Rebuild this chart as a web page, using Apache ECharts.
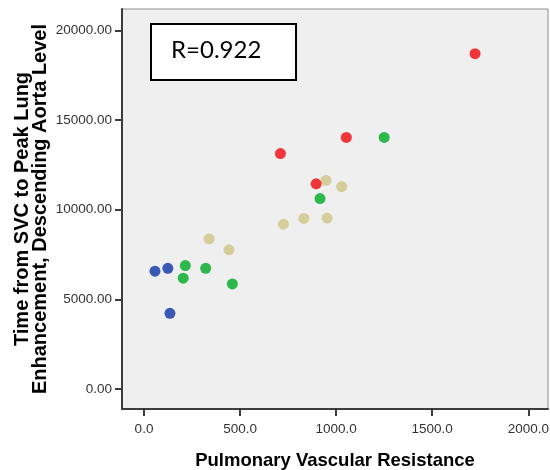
<!DOCTYPE html>
<html>
<head>
<meta charset="utf-8">
<script src="https://cdn.jsdelivr.net/npm/echarts@6/dist/echarts.min.js"></script>
<style>
html,body{margin:0;padding:0;background:#fff;}
#chart{width:550px;height:470px;}
</style>
</head>
<body>
<div id="chart"></div>
<script>
// Pulmonary Vascular Resistance (x) vs time (y), by colour group
const blueX = [57, 124, 135];
const blueY = [6570, 6730, 4220];
const greenX = [215, 204, 321, 460, 916, 1250];
const greenY = [6880, 6180, 6730, 5860, 10620, 14030];
const tanX = [339, 442, 726, 832, 953, 947, 1029];
const tanY = [8370, 7760, 9190, 9510, 9530, 11630, 11290];
const redX = [710, 896, 1053, 1723];
const redY = [13130, 11440, 14030, 18700];

const xTicks = [0, 500, 1000, 1500, 2000];
const yTicks = [0, 5000, 10000, 15000, 20000];
const rLabel = 'R=0.922';

const xTitle = 'Pulmonary Vascular Resistance';
const yTitle = 'Time from SVC to Peak Lung\nEnhancement, Descending Aorta Level';

function pts(xs, ys) { return xs.map((x, i) => [x, ys[i]]); }

const chart = echarts.init(document.getElementById('chart'), null, {renderer: 'canvas'});
const tickFont = {fontFamily: 'Liberation Sans, Arial, sans-serif', fontSize: 13.5, color: '#333'};

function sc(name, xs, ys, color) {
  return {
    name: name, type: 'scatter', data: pts(xs, ys), symbolSize: 11,
    itemStyle: {color: color, opacity: 1}, emphasis: {disabled: true}
  };
}

chart.setOption({
  animation: false,
  backgroundColor: '#ffffff',
  grid: {
    left: 122, right: 2, top: 9, bottom: 61, containLabel: false, outerBoundsMode: 'none',
    show: true, backgroundColor: '#efefef', borderColor: '#8c8c8c', borderWidth: 1
  },
  xAxis: {
    type: 'value', min: -114.5, max: 2102.5,
    splitLine: {show: false},
    axisLine: {show: true, onZero: false, lineStyle: {color: '#3c3c3c', width: 2}},
    axisTick: {show: true, customValues: xTicks, length: 7, lineStyle: {color: '#3c3c3c', width: 2}},
    axisLabel: Object.assign({
      customValues: xTicks, margin: 13,
      formatter: v => Number(v).toFixed(1)
    }, tickFont),
    name: xTitle, nameLocation: 'middle', nameGap: 42, nameMoveOverlap: false,
    nameTextStyle: {fontFamily: 'Liberation Sans, Arial, sans-serif', fontWeight: 'bold', fontSize: 18.5, color: '#000'}
  },
  yAxis: {
    type: 'value', min: -1115, max: 21190,
    splitLine: {show: false},
    axisLine: {show: true, onZero: false, lineStyle: {color: '#3c3c3c', width: 2}},
    axisTick: {show: true, customValues: yTicks, length: 7, lineStyle: {color: '#3c3c3c', width: 2}},
    axisLabel: Object.assign({
      customValues: yTicks, margin: 10,
      formatter: v => Number(v).toFixed(2)
    }, tickFont),
    name: yTitle, nameLocation: 'middle', nameGap: 73, nameRotate: 90, nameMoveOverlap: false,
    nameTextStyle: {fontFamily: 'Liberation Sans, Arial, sans-serif', fontWeight: 'bold', fontSize: 20, lineHeight: 18, color: '#000', align: 'center'}
  },
  series: [
    sc('Blue', blueX, blueY, '#3a58b5'),
    sc('Green', greenX, greenY, '#2db84b'),
    sc('Tan', tanX, tanY, '#d5cd9a'),
    sc('Red', redX, redY, '#f0363b')
  ],
  graphic: [
    {type: 'rect', left: 150, top: 23, z: 100,
     shape: {width: 145, height: 56},
     style: {fill: '#ffffff', stroke: '#000', lineWidth: 2}},
    {type: 'text', left: 171, top: 38, z: 101,
     style: {text: rLabel, fontFamily: 'Lato, sans-serif', fontSize: 24, fill: '#000'}}
  ]
});
</script>
</body>
</html>
